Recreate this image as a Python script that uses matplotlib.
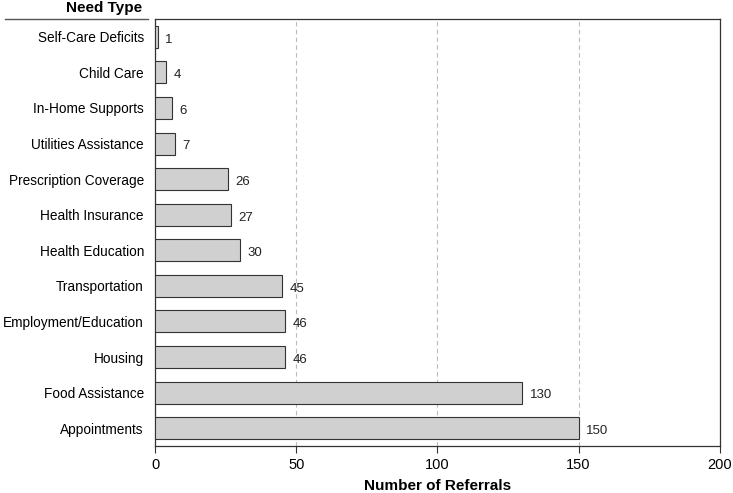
import matplotlib.pyplot as plt
from matplotlib.lines import Line2D

plt.rcParams['font.family'] = ['Liberation Sans', 'DejaVu Sans']

need_types = ["Self-Care Deficits", "Child Care", "In-Home Supports", "Utilities Assistance",
              "Prescription Coverage", "Health Insurance", "Health Education", "Transportation",
              "Employment/Education", "Housing", "Food Assistance", "Appointments"]
referrals = [1, 4, 6, 7, 26, 27, 30, 45, 46, 46, 130, 150]

fig = plt.figure(figsize=(7.33, 4.93), dpi=100)
ax = fig.add_axes([0.2115, 0.0953, 0.7705, 0.8662])

y = list(range(len(need_types)))
ax.barh(y, referrals, height=0.62, color="#d0d0d0", edgecolor="#333333", linewidth=0.8, zorder=3)
for yi, v in zip(y, referrals):
    ax.text(v + 2.6, yi + 0.08, str(v), va="center", ha="left", fontsize=9.5, color="#222222")

ax.set_xlim(0, 200)
ax.set_ylim(11.5, -0.5)
ax.set_yticks(y)
ax.set_yticklabels(need_types, fontsize=9.8)
ax.tick_params(axis="y", length=0, pad=8)
ax.set_xticks([0, 50, 100, 150, 200])
ax.tick_params(axis="x", labelsize=10.5, direction="out", length=5, color="#333333")
ax.grid(axis="x", linestyle=(0, (4, 3)), color="#bbbbbb", linewidth=0.8, zorder=0)
for s in ax.spines.values():
    s.set_color("#333333")
    s.set_linewidth(0.9)

ax.set_xlabel("Number of Referrals", fontsize=11, fontweight="bold", labelpad=5)
fig.text(0.194, 0.998, "Need Type", ha="right", va="top", fontsize=11, fontweight="bold")
fig.add_artist(Line2D([0.007, 0.202], [0.961, 0.961], color="#555555", linewidth=1.0))

fig.savefig("out.png", dpi=100)
